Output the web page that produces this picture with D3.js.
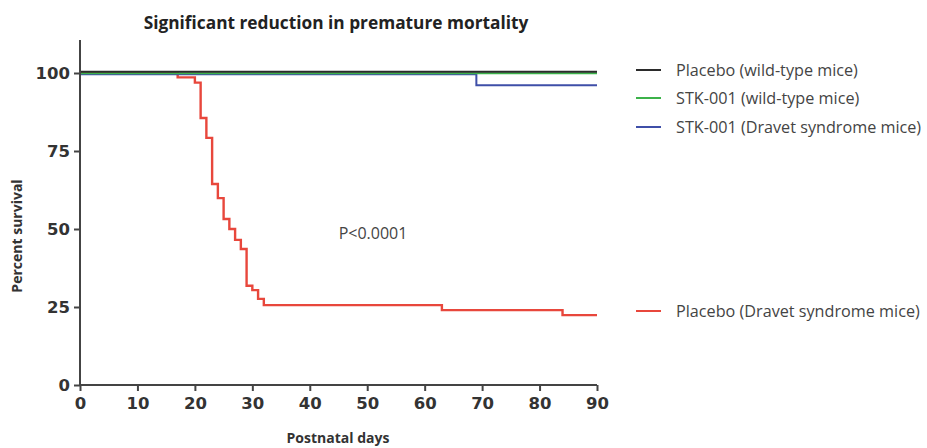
<!DOCTYPE html>
<html><head><meta charset="utf-8">
<script src="https://cdn.jsdelivr.net/npm/d3@7"></script>
<style>body{margin:0;background:#fff;}svg{display:block;}</style>
</head><body>
<svg id="c" width="927" height="448"></svg>
<script>
// Data (Kaplan-Meier steps: day, percent survival after step)
const xTicks = [0,10,20,30,40,50,60,70,80,90];
const yTicks = [0,25,50,75,100];
const seriesNames = ["Placebo (wild-type mice)","STK-001 (wild-type mice)","STK-001 (Dravet syndrome mice)","Placebo (Dravet syndrome mice)"];
const seriesColors = ["#2b2b2b","#3cb24a","#3f4fa8","#e8473c"];
const placeboWT = [[0,100],[90,100]];
const stkWT = [[0,100],[90,100]];
const stkDS = [[0,100],[69,96.5],[90,96.5]];
const placeboDS = [[0,100],[17,98.6],[20,96.9],[21,85.6],[22,79.2],[23,64.4],[24,59.9],[25,53.2],[26,50],[27,46.5],[28,43.6],[29,31.8],[30,30.4],[31,27.6],[32,25.6],[63,24],[84,22.4],[90,22.4]];
const pText = "P<0.0001";
const title = "Significant reduction in premature mortality";
const xLabel = "Postnatal days";
const yLabel = "Percent survival";

const svg = d3.select("#c");
const x = d3.scaleLinear().domain([0,90]).range([80,597]);
const y = d3.scaleLinear().domain([0,100]).range([385,73]);

// title
svg.append("text").attr("x",336).attr("y",29).attr("text-anchor","middle")
  .attr("font-family","Open Sans, sans-serif").attr("font-weight","bold").attr("font-size",17.3)
  .attr("fill","#222").text(title);

// series
const data = [placeboDS, stkDS, stkWT, placeboWT];
const cols = [seriesColors[3], seriesColors[2], seriesColors[1], seriesColors[0]];
const offs = [0, 1.3, 0.2, -1.2];
const line = d3.line().x(d=>x(d[0])).y(d=>y(d[1])).curve(d3.curveStepAfter);
data.forEach((d,i)=>{
  svg.append("path").attr("d",line(d)).attr("fill","none").attr("stroke",cols[i])
    .attr("stroke-width",i===0?2.4:2).attr("transform",`translate(0,${offs[i]})`);
});

// axes
const xa = svg.append("g").attr("transform","translate(0,385)")
  .call(d3.axisBottom(x).tickValues(xTicks).tickSize(6).tickSizeOuter(0).tickPadding(6));
const ya = svg.append("g").attr("transform","translate(80,0)")
  .call(d3.axisLeft(y).tickValues(yTicks).tickSize(6).tickSizeOuter(0).tickPadding(4));
[xa,ya].forEach(a=>{
  a.selectAll(".domain,line").attr("stroke","#444").attr("stroke-width",2);
  a.selectAll("text").attr("font-family","DejaVu Sans, sans-serif")
    .attr("font-weight","bold").attr("font-size",16.5).attr("fill","#333");
});
ya.select(".domain").attr("d","M0,40V386");
xa.select(".domain").attr("d","M79,0H597");

// axis labels
svg.append("text").attr("x",338).attr("y",443).attr("text-anchor","middle")
  .attr("font-family","Open Sans, sans-serif").attr("font-weight","bold").attr("font-size",14)
  .attr("fill","#333").text(xLabel);
svg.append("text").attr("transform","translate(22,236) rotate(-90)").attr("text-anchor","middle")
  .attr("font-family","Open Sans, sans-serif").attr("font-weight","bold").attr("font-size",14)
  .attr("fill","#333").text(yLabel);

// p value
svg.append("text").attr("x",373).attr("y",239).attr("text-anchor","middle")
  .attr("font-family","Open Sans, sans-serif").attr("font-size",16).attr("fill","#444").text(pText);

// legend
const legY = [70,98,127,311];
seriesNames.forEach((n,i)=>{
  svg.append("line").attr("x1",636).attr("x2",661).attr("y1",legY[i]).attr("y2",legY[i])
    .attr("stroke",seriesColors[i]).attr("stroke-width",2);
  svg.append("text").attr("x",676).attr("y",legY[i]+5.5).attr("font-family","Open Sans, sans-serif")
    .attr("font-size",16.2).attr("fill","#444").text(n);
});
</script>
</body></html>
